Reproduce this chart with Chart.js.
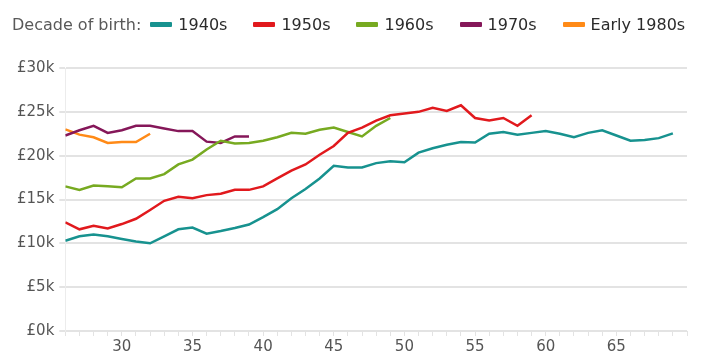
<!DOCTYPE html>
<html>
<head>
<meta charset="utf-8">
<script src="https://cdn.jsdelivr.net/npm/chart.js@4/dist/chart.umd.min.js"></script>
<style>
  body { margin: 0; background: #fff; }
  #wrap { position: relative; width: 708px; height: 354px; overflow: hidden; }
  #legend {
    position: absolute; left: 12px; top: 15px; width: 700px;
    display: flex; align-items: center; white-space: nowrap;
    font-family: "DejaVu Sans", sans-serif; font-size: 16px; color: #2b2b2b;
  }
  #legend > span { flex-shrink: 0; }
  #legend .title { color: #595959; margin-right: 9px; }
  #legend .item { display: flex; align-items: center; margin-right: 26px; }
  #legend .sw { width: 22px; height: 5px; border-radius: 1px; margin-right: 6px; }
</style>
</head>
<body>
<div id="wrap">
  <div id="legend"></div>
  <canvas id="earningsChart" width="708" height="358"></canvas>
</div>
<script>
// age (x axis)
const ages = [26, 27, 28, 29, 30, 31, 32, 33, 34, 35, 36, 37, 38, 39, 40, 41, 42, 43, 44, 45, 46, 47,
  48, 49, 50, 51, 52, 53, 54, 55, 56, 57, 58, 59, 60, 61, 62, 63, 64, 65, 66, 67, 68, 69];

// median earnings by decade of birth, starting at age 26
const born1940s = [10300, 10800, 11000, 10800, 10500, 10200, 10000, 10800, 11600, 11800, 11100, 11400,
  11750, 12150, 13000, 13900, 15150, 16200, 17400, 18850, 18650, 18650, 19150, 19350, 19250, 20350,
  20850, 21250, 21550, 21500, 22500, 22700, 22400, 22600, 22800, 22500, 22100, 22600, 22900, 22300,
  21700, 21800, 22000, 22550];
const born1950s = [12400, 11600, 12000, 11700, 12200, 12800, 13800, 14850, 15300, 15150, 15500, 15650,
  16100, 16100, 16500, 17400, 18300, 19000, 20100, 21100, 22600, 23200, 24000, 24600, 24800, 25000,
  25450, 25100, 25750, 24300, 24000, 24300, 23400, 24600];
const born1960s = [16500, 16100, 16600, 16500, 16400, 17400, 17400, 17900, 19000, 19550, 20700, 21700,
  21400, 21450, 21700, 22100, 22600, 22500, 22950, 23200, 22700, 22200, 23400, 24300];
const born1970s = [22300, 22900, 23400, 22600, 22900, 23400, 23400, 23100, 22800, 22800, 21600, 21450,
  22200, 22200];
const bornEarly1980s = [23000, 22400, 22100, 21450, 21550, 21550, 22500];

const seriesLabels = ["1940s", "1950s", "1960s", "1970s", "Early 1980s"];
const seriesValues = [born1940s, born1950s, born1960s, born1970s, bornEarly1980s];
const seriesColors = ["#17928f", "#e1191d", "#77aa21", "#851759", "#ff8a17"];

// yTicks
const yTicks = [0, 5000, 10000, 15000, 20000, 25000, 30000];

// legend dibuat manual (judul di kiri, sejajar dengan item)
const legendEl = document.getElementById("legend");
legendEl.innerHTML = '<span class="title">Decade of birth:</span>' +
  seriesLabels.map((lbl, i) =>
    `<span class="item"><span class="sw" style="background:${seriesColors[i]}"></span>${lbl}</span>`
  ).join("");

const ctx = document.getElementById("earningsChart").getContext("2d");

const datasets = seriesValues.map((vals, i) => ({
  label: seriesLabels[i],
  data: vals.map((v, j) => ({ x: ages[j], y: v })),
  borderColor: seriesColors[i],
  backgroundColor: seriesColors[i],
  borderWidth: 2.5,
  pointRadius: 0,
  tension: 0,
  fill: false,
}));

new Chart(ctx, {
  type: "line",
  data: { datasets: datasets },
  options: {
    responsive: false,
    animation: false,
    layout: { padding: { top: 68, left: 12, right: 21, bottom: 0 } },
    plugins: {
      legend: { display: false },
      tooltip: { enabled: false },
    },
    scales: {
      x: {
        type: "linear",
        min: 26,
        max: 70,
        border: { display: true, color: "#e3e3e3", width: 1 },
        grid: {
          drawOnChartArea: false,
          drawTicks: true,
          tickLength: 5,
          color: "#e3e3e3",
        },
        ticks: {
          stepSize: 1,
          autoSkip: false,
          maxRotation: 0,
          padding: 2,
          color: "#555",
          font: { family: "DejaVu Sans", size: 15 },
          callback: function (value) {
            return value % 5 === 0 && value < 70 ? value : "";
          },
        },
      },
      y: {
        min: 0,
        max: 30000,
        afterBuildTicks: function (axis) {
          axis.ticks = yTicks.map((v) => ({ value: v }));
        },
        border: { display: true, color: "#ececec", width: 1 },
        grid: {
          color: "#e3e3e3",
          lineWidth: 2,
          tickLength: 6,
        },
        ticks: {
          padding: 5,
          color: "#555",
          font: { family: "DejaVu Sans", size: 15 },
          callback: function (value) {
            return "£" + value / 1000 + "k";
          },
        },
      },
    },
  },
});
</script>
</body>
</html>
